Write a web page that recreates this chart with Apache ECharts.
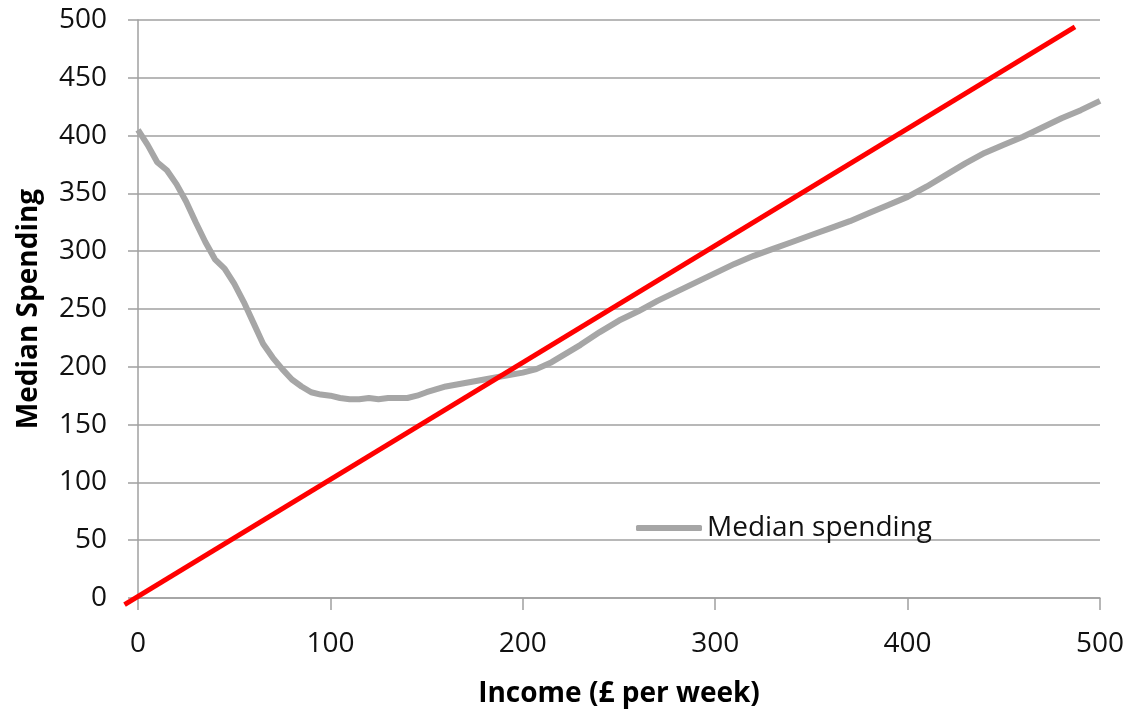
<!DOCTYPE html>
<html>
<head>
<meta charset="utf-8">
<script src="https://cdn.jsdelivr.net/npm/echarts@6/dist/echarts.min.js"></script>
<style>
  html, body { margin: 0; padding: 0; background: #fff; }
  #chart { width: 1128px; height: 713px; }
</style>
</head>
<body>
<div id="chart"></div>
<script>
// income (£ per week) and median spending
var income = [0, 5, 10, 15, 20, 25, 30, 35, 40, 45, 50, 55, 60, 65, 70, 75, 80, 85, 90, 95,
  100, 105, 110, 115, 120, 125, 130, 135, 140, 145, 150, 160, 170, 180, 190, 200, 207, 215,
  220, 230, 240, 250, 260, 270, 280, 290, 300, 310, 320, 330, 340, 350, 360, 370, 380, 390,
  400, 410, 420, 430, 440, 450, 460, 470, 480, 490, 500];
var spending = [405, 392, 377, 370, 358, 343, 325, 308, 293, 285, 272, 256, 238, 220, 208, 198, 189, 183, 178, 176,
  175, 173, 172, 172, 173, 172, 173, 173, 173, 175, 178, 183, 186, 189, 192, 195, 198, 204,
  209, 219, 230, 240, 248, 257, 265, 273, 281, 289, 296, 302, 308, 314, 320, 326, 333, 340,
  347, 356, 366, 376, 385, 392, 399, 407, 415, 422, 430];

// red reference line end points (it pokes out past the origin)
var refX = [-7, 487];
var refY = [-4, 494];

var xTicks = [0, 100, 200, 300, 400, 500];
var yTicks = [0, 50, 100, 150, 200, 250, 300, 350, 400, 450, 500];

var font = '"Open Sans", "Noto Sans", sans-serif';
var gridColor = '#a0a0a0';

// main plot box in pixels
var box = { left: 138, right: 28, top: 20, bottom: 113 };
// second, hidden grid with the same scale but a bit of room below 0
var pad = 20;
var pxX = (1128 - box.left - box.right) / (xTicks[xTicks.length - 1] - xTicks[0]);
var pxY = (713 - box.top - box.bottom) / (yTicks[yTicks.length - 1] - yTicks[0]);

function pairs(xs, ys) {
  var out = [];
  for (var i = 0; i < xs.length; i++) {
    out.push([xs[i], ys[i]]);
  }
  return out;
}

var myChart = echarts.init(document.getElementById('chart'));

myChart.setOption({
  animation: false,
  grid: [
    { left: box.left, right: box.right, top: box.top, bottom: box.bottom, containLabel: false },
    { left: box.left - pad * pxX, right: box.right, top: box.top, bottom: box.bottom - pad * pxY, containLabel: false }
  ],
  legend: {
    data: ['Median spending'],
    left: 631,
    top: 509,
    itemWidth: 66,
    itemHeight: 6,
    itemGap: 8,
    icon: 'roundRect',
    textStyle: { fontFamily: font, fontSize: 28, color: '#111' }
  },
  xAxis: [{
    type: 'value',
    gridIndex: 0,
    min: xTicks[0],
    max: xTicks[xTicks.length - 1],
    interval: 100,
    name: 'Income (£ per week)',
    nameLocation: 'middle',
    nameGap: 82,
    nameTextStyle: { fontFamily: font, fontSize: 28, fontWeight: 'bold', color: '#000' },
    axisLine: { show: true, lineStyle: { color: gridColor, width: 1.5 } },
    axisTick: { show: true, length: 12, lineStyle: { color: gridColor, width: 1.5 } },
    axisLabel: { margin: 32, fontFamily: font, fontSize: 28, color: '#111' },
    splitLine: { show: false }
  }, {
    type: 'value',
    gridIndex: 1,
    min: xTicks[0] - pad,
    max: xTicks[xTicks.length - 1],
    show: false
  }],
  yAxis: [{
    type: 'value',
    gridIndex: 0,
    min: yTicks[0],
    max: yTicks[yTicks.length - 1],
    interval: 50,
    name: 'Median Spending',
    nameLocation: 'middle',
    nameGap: 95,
    nameRotate: 90,
    nameTextStyle: { fontFamily: font, fontSize: 28, fontWeight: 'bold', color: '#000' },
    axisLine: { show: true, lineStyle: { color: gridColor, width: 1.5 } },
    axisTick: { show: true, length: 10, lineStyle: { color: gridColor, width: 1.5 } },
    axisLabel: { margin: 31, fontFamily: font, fontSize: 28, color: '#111' },
    splitLine: { show: true, lineStyle: { color: gridColor, width: 1.5 } }
  }, {
    type: 'value',
    gridIndex: 1,
    min: yTicks[0] - pad,
    max: yTicks[yTicks.length - 1],
    show: false
  }],
  series: [
    {
      name: 'Median spending',
      type: 'line',
      xAxisIndex: 0,
      yAxisIndex: 0,
      data: pairs(income, spending),
      showSymbol: false,
      lineStyle: { color: '#a6a6a6', width: 6 },
      itemStyle: { color: '#a6a6a6' }
    },
    {
      name: 'ref',
      type: 'line',
      xAxisIndex: 1,
      yAxisIndex: 1,
      data: pairs(refX, refY),
      showSymbol: false,
      lineStyle: { color: '#ff0000', width: 5 },
      itemStyle: { color: '#ff0000' }
    }
  ]
});
</script>
</body>
</html>
